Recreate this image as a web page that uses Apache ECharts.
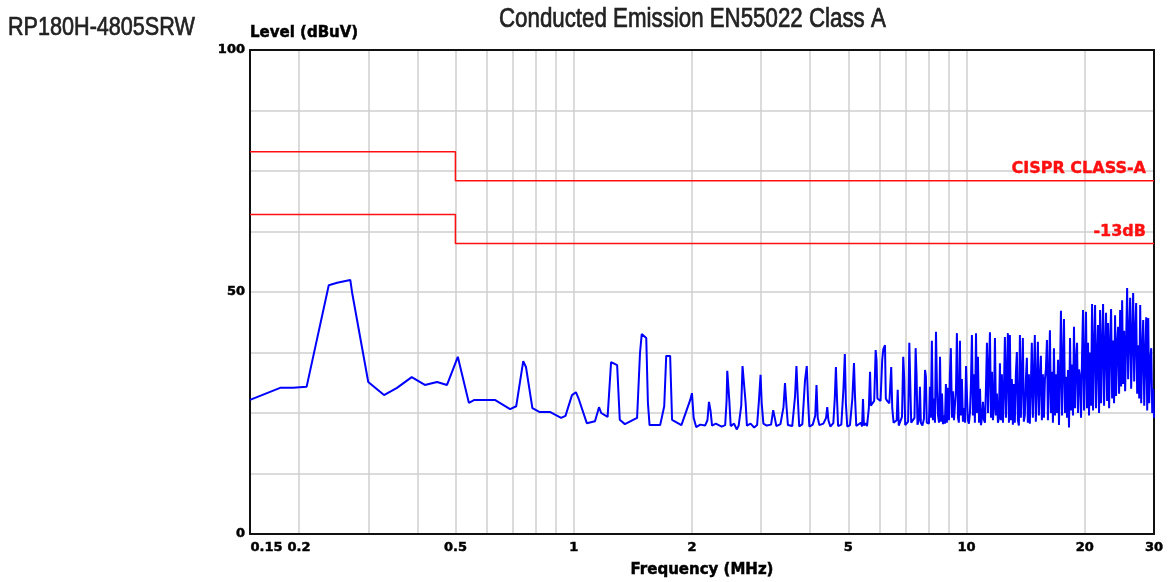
<!DOCTYPE html>
<html>
<head>
<meta charset="utf-8">
<title>RP180H-4805SRW Conducted Emission</title>
<script src="https://cdn.jsdelivr.net/npm/echarts@6/dist/echarts.min.js"></script>
<style>
  html, body { margin: 0; padding: 0; background: #fff; }
  #chart { width: 1169px; height: 582px; }
</style>
</head>
<body>
<div id="chart"></div>
<script>
// ---- headings ----
const modelName = 'RP180H-4805SRW';
const chartTitle = 'Conducted Emission EN55022 Class A';

// ---- frequency axis (MHz) ----
const tickValues = [0.15, 0.2, 0.5, 1, 2, 5, 10, 20, 30];
const tickText = ['0.15', '0.2', '0.5', '1', '2', '5', '10', '20', '30'];
const gridFreqs = [0.2, 0.3, 0.4, 0.5, 0.6, 0.7, 0.8, 0.9, 1, 2, 3, 4, 5, 6, 7, 8, 9, 10, 20];

// ---- CISPR 22 class A limit and the -13 dB margin line [MHz, dBuV] ----
const limitFreq = [0.15, 0.5, 0.5, 30];
const classALevel = [79, 79, 73, 73];
const marginLevel = [66, 66, 60, 60];

// ---- measured level [MHz, dBuV] ----
const traceLow = [
  [0.15, 27.7], [0.179, 30.2], [0.193, 30.2], [0.209, 30.4], [0.238, 51.4], [0.25, 51.9],
  [0.27, 52.5], [0.273, 49.8], [0.30, 31.4], [0.329, 28.7], [0.355, 30.2], [0.387, 32.4],
  [0.418, 30.8], [0.449, 31.4], [0.476, 30.8], [0.507, 36.6], [0.541, 27.1], [0.559, 27.7],
  [0.63, 27.7], [0.689, 25.8], [0.714, 26.4], [0.744, 35.7], [0.756, 34.5], [0.785, 26.0],
  [0.82, 25.2], [0.872, 25.2], [0.929, 24.0], [0.953, 24.4], [0.99, 28.7], [1.013, 29.3],
  [1.03, 27.9], [1.08, 22.9], [1.133, 23.3], [1.16, 26.2], [1.175, 25.0], [1.22, 24.2],
  [1.245, 35.5], [1.29, 34.9], [1.31, 23.6], [1.35, 22.7], [1.45, 24.0], [1.475, 37.4],
  [1.49, 41.3], [1.53, 40.5], [1.545, 27.1], [1.56, 22.5], [1.66, 22.5], [1.70, 26.4],
  [1.72, 36.8], [1.76, 36.8], [1.78, 23.6], [1.88, 22.5], [1.98, 27.7], [2.0, 29.1],
  [2.02, 24.0], [2.05, 22.1]
];

const traceHarmonics = [
  [2.1, 22.6], [2.16, 22.4], [2.19, 23.5], [2.21, 27.3], [2.23, 25.5], [2.25, 22.4],
  [2.3, 22.8], [2.38, 22.2], [2.43, 22.5], [2.45, 27.5], [2.46, 33.7], [2.48, 33.3],
  [2.49, 27.5], [2.51, 22.3], [2.56, 22.8], [2.6, 21.6], [2.63, 22.4], [2.67, 26.5],
  [2.69, 34.7], [2.72, 34.7], [2.74, 27.0], [2.76, 22.4], [2.82, 22.8], [2.88, 22.0],
  [2.93, 22.5], [2.96, 27.3], [2.99, 32.9], [3.01, 27.0], [3.04, 22.8], [3.1, 22.4],
  [3.18, 22.6], [3.22, 25.6], [3.25, 24.0], [3.28, 22.3], [3.36, 22.7], [3.42, 26.2],
  [3.45, 31.2], [3.48, 26.5], [3.51, 22.5], [3.6, 22.3], [3.66, 28.5], [3.69, 34.7],
  [3.72, 28.0], [3.75, 22.2], [3.82, 22.7], [3.88, 31.8], [3.92, 34.7], [3.95, 27.5],
  [3.98, 22.2], [4.06, 22.6], [4.12, 24.5], [4.15, 30.8], [4.18, 24.0], [4.22, 22.5],
  [4.32, 22.8], [4.39, 24.0], [4.42, 26.2], [4.45, 23.5], [4.5, 22.2], [4.58, 22.9],
  [4.62, 28.1], [4.65, 34.5], [4.68, 28.0], [4.71, 22.3], [4.8, 22.6], [4.86, 30.0],
  [4.9, 37.2], [4.93, 27.0], [4.97, 22.2], [5.05, 22.5], [5.12, 28.0], [5.17, 35.3],
  [5.2, 28.5], [5.24, 22.3], [5.3, 22.6]
];

const traceMid = [
  [5.38, 23.0], [5.42, 22.2], [5.45, 27.9], [5.48, 22.4], [5.53, 22.9], [5.58, 22.3],
  [5.64, 26.0], [5.68, 33.5], [5.71, 26.5], [5.76, 27.0], [5.82, 27.5], [5.87, 38.0],
  [5.9, 36.0], [5.93, 28.0], [5.98, 28.3], [6.04, 27.5], [6.1, 36.0], [6.14, 38.2],
  [6.2, 39.0], [6.23, 28.0], [6.28, 27.5], [6.36, 27.0], [6.43, 34.5], [6.47, 26.0],
  [6.52, 23.0], [6.58, 22.6], [6.64, 23.5], [6.68, 29.8], [6.72, 22.4], [6.78, 22.8],
  [6.85, 24.2], [6.9, 36.6], [6.94, 32.0], [6.98, 22.5], [7.05, 22.8], [7.1, 23.2],
  [7.15, 39.5], [7.19, 31.0], [7.23, 23.0], [7.3, 22.6], [7.37, 24.0], [7.42, 38.4],
  [7.46, 33.0], [7.5, 22.6], [7.56, 23.5], [7.61, 30.4], [7.65, 23.0], [7.72, 22.4],
  [7.79, 23.8], [7.84, 33.9], [7.88, 32.5], [7.92, 23.0], [7.98, 22.8]
];

const traceUpperMid = [
  [8.02, 22.8], [8.07, 30.4], [8.11, 24.0], [8.16, 39.9], [8.21, 23.5], [8.26, 28.0],
  [8.31, 23.0], [8.36, 41.8], [8.41, 30.0], [8.46, 24.5], [8.51, 23.0], [8.56, 36.6],
  [8.61, 23.2], [8.66, 29.0], [8.71, 22.7], [8.76, 24.5], [8.81, 22.8], [8.86, 31.0],
  [8.91, 23.0], [8.97, 30.2], [9.02, 23.5], [9.07, 33.0], [9.12, 38.4], [9.18, 24.0],
  [9.23, 29.5], [9.29, 23.5], [9.34, 26.5], [9.40, 30.0], [9.45, 41.5], [9.51, 24.0],
  [9.56, 23.0], [9.62, 39.9], [9.67, 24.5], [9.73, 32.0], [9.79, 23.2], [9.85, 26.0],
  [9.91, 23.0], [9.97, 34.7], [10.03, 28.0], [10.08, 23.5], [10.14, 22.8], [10.2, 25.0],
  [10.26, 31.0], [10.32, 41.1], [10.38, 24.5], [10.44, 33.0], [10.5, 23.0], [10.57, 41.5],
  [10.63, 25.0], [10.69, 36.6], [10.76, 23.0], [10.82, 30.0], [10.88, 22.5], [10.95, 24.0],
  [11.01, 27.3], [11.08, 23.5], [11.14, 23.0], [11.21, 31.0], [11.27, 39.5], [11.34, 25.0],
  [11.4, 34.0], [11.47, 41.7], [11.54, 24.0], [11.61, 33.5], [11.67, 23.5], [11.74, 26.0],
  [11.81, 40.5], [11.88, 24.5], [11.95, 29.0], [12.02, 23.0], [12.09, 24.0], [12.16, 35.3],
  [12.23, 23.5], [12.3, 33.0], [12.38, 23.0], [12.45, 30.0], [12.52, 40.7], [12.6, 24.0]
];

const traceHigh = [
  [12.67, 24.0], [12.74, 41.5], [12.82, 23.0], [12.89, 41.1], [12.97, 23.5], [13.04, 32.0],
  [13.12, 22.6], [13.20, 31.0], [13.27, 23.0], [13.35, 33.0], [13.43, 37.6], [13.51, 23.5],
  [13.59, 22.4], [13.67, 41.1], [13.75, 24.0], [13.83, 32.0], [13.91, 40.5], [13.99, 23.2],
  [14.07, 24.5], [14.16, 32.0], [14.24, 36.4], [14.32, 23.0], [14.41, 33.0], [14.49, 22.8],
  [14.58, 31.0], [14.66, 39.5], [14.75, 24.0], [14.84, 32.5], [14.92, 41.1], [15.01, 23.2],
  [15.10, 31.0], [15.19, 39.7], [15.28, 24.5], [15.37, 32.0], [15.46, 36.8], [15.55, 23.5],
  [15.64, 33.0], [15.74, 24.0], [15.83, 32.0], [15.92, 34.0], [16.02, 40.1], [16.11, 23.5],
  [16.21, 32.0], [16.30, 42.1], [16.40, 25.0], [16.50, 33.5], [16.59, 23.0], [16.69, 38.4],
  [16.79, 24.5], [16.89, 33.0], [16.99, 25.0], [17.09, 36.0], [17.19, 22.5], [17.29, 33.0],
  [17.39, 46.1], [17.50, 24.5], [17.60, 35.0], [17.70, 44.4], [17.81, 25.0], [17.91, 32.5],
  [18.02, 24.0], [18.12, 33.9], [18.23, 22.0], [18.34, 40.5], [18.45, 25.5], [18.56, 35.0],
  [18.66, 24.5], [18.77, 42.8], [18.89, 26.0], [19.00, 36.0], [19.11, 39.5], [19.22, 25.0],
  [19.33, 34.0], [19.45, 32.4], [19.56, 24.0], [19.68, 37.0], [19.79, 46.3], [19.91, 25.5],
  [20.03, 36.0], [20.14, 45.9], [20.26, 26.0], [20.38, 39.5], [20.50, 24.5], [20.62, 37.5],
  [20.74, 26.5], [20.87, 47.5], [20.99, 25.5], [21.11, 38.0], [21.24, 47.3], [21.36, 26.0],
  [21.49, 36.5], [21.61, 43.2], [21.74, 25.0], [21.87, 46.3], [22.00, 27.0], [22.13, 39.0],
  [22.26, 47.5], [22.39, 26.5], [22.52, 38.0], [22.65, 45.7], [22.79, 27.5], [22.92, 43.6],
  [23.06, 26.0], [23.19, 39.0], [23.33, 46.5], [23.47, 28.0], [23.60, 40.0], [23.74, 27.0],
  [23.88, 45.2], [24.02, 28.5], [24.17, 39.5], [24.31, 42.8], [24.45, 29.0], [24.60, 46.3],
  [24.74, 30.5], [24.89, 48.3], [25.03, 31.0], [25.18, 42.0], [25.33, 29.5], [25.48, 40.0],
  [25.63, 50.8], [25.78, 32.0], [25.93, 41.0], [26.09, 48.8], [26.24, 30.0], [26.40, 40.5],
  [26.55, 49.8], [26.71, 31.5], [26.87, 41.5], [27.02, 47.7], [27.18, 29.0], [27.34, 39.0],
  [27.51, 28.0], [27.67, 47.3], [27.83, 27.0], [28.00, 38.0], [28.16, 44.2], [28.33, 26.5],
  [28.50, 37.0], [28.66, 44.8], [28.83, 25.5], [29.00, 44.6], [29.17, 27.0], [29.35, 36.0],
  [29.52, 38.4], [29.69, 25.0], [29.87, 30.0], [30.0, 24.0]
];

// The frequency axis is logarithmic: positions are log10(MHz) on a value axis.
const lg = Math.log10;
const toXY = (pts) => pts.map(([f, v]) => [lg(f), v]);
const trace = toXY([].concat(traceLow, traceHarmonics, traceMid, traceUpperMid, traceHigh));
const limitA = toXY(limitFreq.map((f, i) => [f, classALevel[i]]));
const limitM = toXY(limitFreq.map((f, i) => [f, marginLevel[i]]));

const xMin = lg(tickValues[0]);
const xMax = lg(tickValues[tickValues.length - 1]);

function tickLabel(v) {
  const f = Math.pow(10, v);
  let best = 0;
  for (let i = 1; i < tickValues.length; i++) {
    if (Math.abs(lg(tickValues[i] / f)) < Math.abs(lg(tickValues[best] / f))) best = i;
  }
  // the first label starts at the axis origin instead of being centred on it
  return best === 0 ? '{first|' + tickText[0] + '}' : tickText[best];
}

// heavy black axis lettering
const boldAxis = { fontFamily: 'DejaVu Sans', fontWeight: 'bold', color: '#000', textBorderColor: '#000', textBorderWidth: 0.5 };
const frame = { show: true, onZero: false, lineStyle: { color: '#111', width: 2 } };
const headingStyle = { fill: '#222', stroke: '#222', lineWidth: 0.7, align: 'left', verticalAlign: 'middle' };

const chart = echarts.init(document.getElementById('chart'), null, { renderer: 'canvas' });
chart.setOption({
  animation: false,
  backgroundColor: '#fff',
  graphic: [
    {
      type: 'text', x: 8, y: 27.5, scaleX: 0.815, silent: true,
      style: Object.assign({ text: modelName, font: '26.5px "Liberation Sans"' }, headingStyle)
    },
    {
      type: 'text', x: 499, y: 20, scaleX: 0.826, silent: true,
      style: Object.assign({ text: chartTitle, font: '27px "Liberation Sans"' }, headingStyle)
    }
  ],
  grid: { left: 250, right: 15, top: 50, bottom: 48, containLabel: false, outerBoundsMode: 'none', show: false },
  xAxis: [
    {
      type: 'value', min: xMin, max: xMax, position: 'bottom',
      name: 'Frequency (MHz)', nameLocation: 'middle', nameGap: 36,
      nameTextStyle: Object.assign({ fontSize: 15, verticalAlign: 'middle' }, boldAxis),
      axisLine: frame,
      axisTick: { show: false, customValues: gridFreqs.map(lg) },
      splitLine: { show: true, lineStyle: { color: '#cfcfcf', width: 1.5 } },
      axisLabel: Object.assign({
        customValues: tickValues.map(lg), fontSize: 13, margin: 7, formatter: tickLabel,
        rich: { first: Object.assign({ fontSize: 13, padding: [0, 0, 0, 33] }, boldAxis) }
      }, boldAxis)
    },
    {
      type: 'value', min: xMin, max: xMax, position: 'top',
      axisLine: frame, axisTick: { show: false }, axisLabel: { show: false }, splitLine: { show: false }
    }
  ],
  yAxis: [
    {
      type: 'value', min: 0, max: 100, interval: 12.5, position: 'left',
      name: 'Level (dBuV)', nameLocation: 'end', nameGap: 17,
      nameTextStyle: Object.assign({ fontSize: 15, align: 'left', verticalAlign: 'middle' }, boldAxis),
      axisLine: frame,
      axisTick: { show: false },
      splitLine: { show: true, showMinLine: false, showMaxLine: false, lineStyle: { color: '#cfcfcf', width: 1.5 } },
      axisLabel: Object.assign({
        fontSize: 13, margin: 5,
        formatter: (v) => (v % 50 === 0 ? String(v) : '')
      }, boldAxis)
    },
    {
      type: 'value', min: 0, max: 100, position: 'right',
      axisLine: frame, axisTick: { show: false }, axisLabel: { show: false }, splitLine: { show: false }
    }
  ],
  series: [
    {
      name: 'CISPR CLASS-A', type: 'line', data: limitA, showSymbol: false, silent: true,
      lineStyle: { color: '#ff1010', width: 1.5 },
      markPoint: {
        symbol: 'circle', symbolSize: 0, silent: true,
        data: [{ coord: limitA[limitA.length - 1] }],
        label: {
          show: true, formatter: 'CISPR CLASS-A', position: 'left', distance: 8,
          align: 'right', verticalAlign: 'bottom', offset: [0, -4],
          fontFamily: 'DejaVu Sans', fontWeight: 'bold', fontSize: 16, color: '#ff1010',
          textBorderColor: '#ff1010', textBorderWidth: 0.4
        }
      }
    },
    {
      name: '-13dB', type: 'line', data: limitM, showSymbol: false, silent: true,
      lineStyle: { color: '#ff1010', width: 1.5 },
      markPoint: {
        symbol: 'circle', symbolSize: 0, silent: true,
        data: [{ coord: limitM[limitM.length - 1] }],
        label: {
          show: true, formatter: '-13dB', position: 'left', distance: 8,
          align: 'right', verticalAlign: 'bottom', offset: [0, -4],
          fontFamily: 'DejaVu Sans', fontWeight: 'bold', fontSize: 16, color: '#ff1010',
          textBorderColor: '#ff1010', textBorderWidth: 0.4
        }
      }
    },
    {
      name: 'Level', type: 'line', data: trace, showSymbol: false, silent: true, clip: true,
      lineStyle: { color: '#0000ff', width: 2 }
    }
  ]
});
</script>
</body>
</html>
